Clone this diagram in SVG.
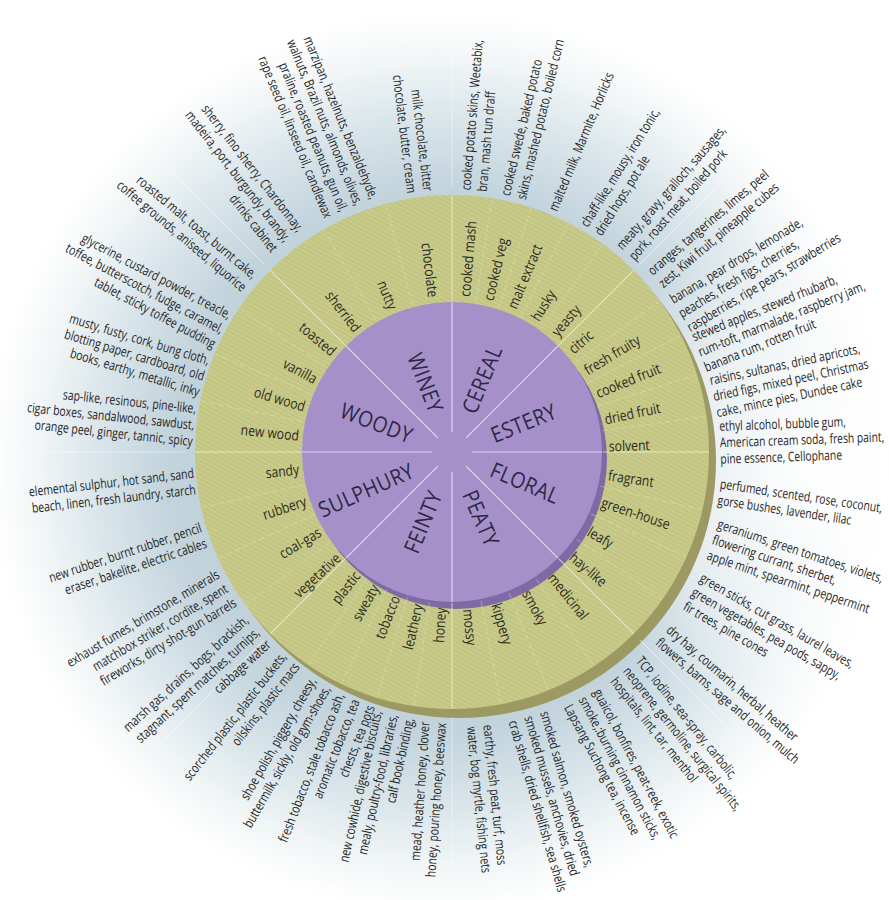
<svg xmlns="http://www.w3.org/2000/svg" width="889" height="900" viewBox="0 0 889 900">
<defs>
<radialGradient id="halo" cx="440" cy="462" r="450" gradientUnits="userSpaceOnUse">
<stop offset="0" stop-color="#b7c9d3"/>
<stop offset="0.6" stop-color="#c2d3dc"/>
<stop offset="0.76" stop-color="#d9e5ea"/>
<stop offset="0.9" stop-color="#f2f6f7"/>
<stop offset="1" stop-color="#ffffff"/>
</radialGradient>
<radialGradient id="glow" cx="820" cy="470" r="260" gradientUnits="userSpaceOnUse">
<stop offset="0" stop-color="#ffffff" stop-opacity="0.95"/>
<stop offset="0.6" stop-color="#ffffff" stop-opacity="0.55"/>
<stop offset="1" stop-color="#ffffff" stop-opacity="0"/>
</radialGradient>
<pattern id="hatch" width="4" height="4" patternUnits="userSpaceOnUse" patternTransform="rotate(28)">
<line x1="0" y1="1" x2="4" y2="1" stroke="#a8aa6a" stroke-width="1" opacity="0.45"/>
</pattern>
</defs>
<style>
.r{font-family:"Open Sans","Noto Sans",sans-serif;font-size:14.5px;fill:#2b2a22}
.o{font-family:"Open Sans","Noto Sans",sans-serif;font-size:13.5px;fill:#1f1f26}
.c{font-family:"Open Sans","Noto Sans",sans-serif;font-size:22px;fill:#2d2745;letter-spacing:0.6px}
.e{text-anchor:end}
.d1{stroke:#f4f0fa;stroke-width:1.2;opacity:0.75}
.d2{stroke:#f3f3cf;stroke-width:1;opacity:0.75}
.d3{stroke:#ffffff;stroke-width:1;opacity:0.45}
.d4{stroke:#ecedbd;stroke-width:0.8;opacity:0.45;stroke-dasharray:6 3}
</style>
<rect width="889" height="900" fill="#ffffff"/>
<rect width="889" height="900" fill="url(#halo)"/>
<rect width="889" height="900" fill="url(#glow)"/>
<g id="wheel">
<circle cx="459" cy="461" r="257" fill="#9c9a62"/>
<circle cx="452" cy="452" r="257" fill="#c9cb8a"/>
<circle cx="452" cy="452" r="257" fill="url(#hatch)"/>
<circle cx="457" cy="459" r="150" fill="#7e6aa4"/>
<circle cx="452" cy="452" r="150" fill="#a690c9"/>
</g>
<g id="connectors" transform="translate(452,452)">
<g id="sector-lines">
<line class="d1" x1="0" y1="-20" x2="0" y2="-150" transform="rotate(0)"/>
<line class="d1" x1="0" y1="-20" x2="0" y2="-150" transform="rotate(45)"/>
<line class="d1" x1="0" y1="-20" x2="0" y2="-150" transform="rotate(90)"/>
<line class="d1" x1="0" y1="-20" x2="0" y2="-150" transform="rotate(135)"/>
<line class="d1" x1="0" y1="-20" x2="0" y2="-150" transform="rotate(180)"/>
<line class="d1" x1="0" y1="-20" x2="0" y2="-150" transform="rotate(225)"/>
<line class="d1" x1="0" y1="-20" x2="0" y2="-150" transform="rotate(270)"/>
<line class="d1" x1="0" y1="-20" x2="0" y2="-150" transform="rotate(315)"/>
<line class="d2" x1="0" y1="-151" x2="0" y2="-257" transform="rotate(0)"/>
<line class="d2" x1="0" y1="-151" x2="0" y2="-257" transform="rotate(45)"/>
<line class="d2" x1="0" y1="-151" x2="0" y2="-257" transform="rotate(90)"/>
<line class="d2" x1="0" y1="-151" x2="0" y2="-257" transform="rotate(135)"/>
<line class="d2" x1="0" y1="-151" x2="0" y2="-257" transform="rotate(180)"/>
<line class="d2" x1="0" y1="-151" x2="0" y2="-257" transform="rotate(225)"/>
<line class="d2" x1="0" y1="-151" x2="0" y2="-257" transform="rotate(270)"/>
<line class="d2" x1="0" y1="-151" x2="0" y2="-257" transform="rotate(315)"/>
<line class="d3" x1="0" y1="-266" x2="0" y2="-450" transform="rotate(0)"/>
<line class="d3" x1="0" y1="-266" x2="0" y2="-420" transform="rotate(45)"/>
<line class="d3" x1="0" y1="-266" x2="0" y2="-420" transform="rotate(90)"/>
<line class="d3" x1="0" y1="-266" x2="0" y2="-420" transform="rotate(135)"/>
<line class="d3" x1="0" y1="-266" x2="0" y2="-440" transform="rotate(180)"/>
<line class="d3" x1="0" y1="-266" x2="0" y2="-420" transform="rotate(225)"/>
<line class="d3" x1="0" y1="-266" x2="0" y2="-440" transform="rotate(270)"/>
<line class="d3" x1="0" y1="-266" x2="0" y2="-420" transform="rotate(315)"/>
</g>
<g id="item-lines">
<line class="d4" x1="0" y1="-152" x2="0" y2="-256" transform="rotate(9)"/>
<line class="d4" x1="0" y1="-152" x2="0" y2="-256" transform="rotate(18)"/>
<line class="d4" x1="0" y1="-152" x2="0" y2="-256" transform="rotate(27)"/>
<line class="d4" x1="0" y1="-152" x2="0" y2="-256" transform="rotate(36)"/>
<line class="d4" x1="0" y1="-152" x2="0" y2="-256" transform="rotate(54)"/>
<line class="d4" x1="0" y1="-152" x2="0" y2="-256" transform="rotate(63)"/>
<line class="d4" x1="0" y1="-152" x2="0" y2="-256" transform="rotate(72.5)"/>
<line class="d4" x1="0" y1="-152" x2="0" y2="-256" transform="rotate(82)"/>
<line class="d4" x1="0" y1="-152" x2="0" y2="-256" transform="rotate(103)"/>
<line class="d4" x1="0" y1="-152" x2="0" y2="-256" transform="rotate(114)"/>
<line class="d4" x1="0" y1="-152" x2="0" y2="-256" transform="rotate(125)"/>
<line class="d4" x1="0" y1="-152" x2="0" y2="-256" transform="rotate(146.5)"/>
<line class="d4" x1="0" y1="-152" x2="0" y2="-256" transform="rotate(158)"/>
<line class="d4" x1="0" y1="-152" x2="0" y2="-256" transform="rotate(169)"/>
<line class="d4" x1="0" y1="-152" x2="0" y2="-256" transform="rotate(188.5)"/>
<line class="d4" x1="0" y1="-152" x2="0" y2="-256" transform="rotate(197)"/>
<line class="d4" x1="0" y1="-152" x2="0" y2="-256" transform="rotate(205.5)"/>
<line class="d4" x1="0" y1="-152" x2="0" y2="-256" transform="rotate(214)"/>
<line class="d4" x1="0" y1="-152" x2="0" y2="-256" transform="rotate(233.5)"/>
<line class="d4" x1="0" y1="-152" x2="0" y2="-256" transform="rotate(245.5)"/>
<line class="d4" x1="0" y1="-152" x2="0" y2="-256" transform="rotate(257.5)"/>
<line class="d4" x1="0" y1="-152" x2="0" y2="-256" transform="rotate(281.5)"/>
<line class="d4" x1="0" y1="-152" x2="0" y2="-256" transform="rotate(292.5)"/>
<line class="d4" x1="0" y1="-152" x2="0" y2="-256" transform="rotate(304)"/>
<line class="d4" x1="0" y1="-152" x2="0" y2="-256" transform="rotate(330)"/>
<line class="d4" x1="0" y1="-152" x2="0" y2="-256" transform="rotate(345)"/>
</g>
</g>
<g transform="translate(452,452)">
<g id="cat-cereal"><text class="c" transform="rotate(-67.5) translate(43,0) scale(.88,1)" y="7.8">CEREAL</text></g>
<g id="cat-estery"><text class="c" transform="rotate(-22) translate(43,0) scale(.88,1)" y="7.8">ESTERY</text></g>
<g id="cat-floral"><text class="c" transform="rotate(23) translate(43,0) scale(.88,1)" y="7.8">FLORAL</text></g>
<g id="cat-peaty"><text class="c" transform="rotate(66.5) translate(43,0) scale(.88,1)" y="7.8">PEATY</text></g>
<g id="cat-feinty"><text class="c e" transform="rotate(-67.5) translate(-43,0) scale(.88,1)" y="7.8">FEINTY</text></g>
<g id="cat-sulphury"><text class="c e" transform="rotate(-24) translate(-43,0) scale(.88,1)" y="7.8">SULPHURY</text></g>
<g id="cat-woody"><text class="c e" transform="rotate(21) translate(-43,0) scale(.88,1)" y="7.8">WOODY</text></g>
<g id="cat-winey"><text class="c e" transform="rotate(69) translate(-43,0) scale(.88,1)" y="7.8">WINEY</text></g>

<g id="n-cooked-mash"><text class="r" transform="rotate(-85.2) translate(156,0) scale(.84,1)" y="5">cooked mash</text><text class="o" transform="rotate(-85.2) translate(262,0) scale(.775,1)"><tspan x="0" y="-3.55">cooked potato skins, Weetabix,</tspan><tspan x="0" y="12.95">bran, mash tun draff</tspan></text></g>
<g id="n-cooked-veg"><text class="r" transform="rotate(-76.5) translate(156,0) scale(.84,1)" y="5">cooked veg</text><text class="o" transform="rotate(-76.5) translate(262,0) scale(.775,1)"><tspan x="0" y="-3.55">cooked swede, baked potato</tspan><tspan x="0" y="12.95">skins, mashed potato, boiled corn</tspan></text></g>
<g id="n-malt-extract"><text class="r" transform="rotate(-67.4) translate(156,0) scale(.84,1)" y="5">malt extract</text><text class="o" transform="rotate(-67.4) translate(262,0) scale(.775,1)"><tspan x="0" y="4.7">malted milk, Marmite, Horlicks</tspan></text></g>
<g id="n-husky"><text class="r" transform="rotate(-58) translate(156,0) scale(.84,1)" y="5">husky</text><text class="o" transform="rotate(-58) translate(262,0) scale(.775,1)"><tspan x="0" y="-3.55">chaff-like, mousy, iron tonic,</tspan><tspan x="0" y="12.95">dried hops, pot ale</tspan></text></g>
<g id="n-yeasty"><text class="r" transform="rotate(-49) translate(156,0) scale(.84,1)" y="5">yeasty</text><text class="o" transform="rotate(-49) translate(264,0) scale(.775,1)"><tspan x="0" y="-3.55">meaty, gravy, gralloch, sausages,</tspan><tspan x="0" y="12.95">pork, roast meat, boiled pork</tspan></text></g>
<g id="n-citric"><text class="r" transform="rotate(-40.5) translate(156,0) scale(.84,1)" y="5">citric</text><text class="o" transform="rotate(-40.5) translate(267,0) scale(.775,1)"><tspan x="0" y="-3.55">oranges, tangerines, limes, peel</tspan><tspan x="0" y="12.95">zest, Kiwi fruit, pineapple cubes</tspan></text></g>
<g id="n-fresh-fruity"><text class="r" transform="rotate(-31.2) translate(156,0) scale(.84,1)" y="5">fresh fruity</text><text class="o" transform="rotate(-31.2) translate(266,0) scale(.775,1)"><tspan x="0" y="-11.8">banana, pear drops, lemonade,</tspan><tspan x="0" y="4.7">peaches, fresh figs, cherries,</tspan><tspan x="0" y="21.2">raspberries, ripe pears, strawberries</tspan></text></g>
<g id="n-cooked-fruit"><text class="r" transform="rotate(-22) translate(156,0) scale(.84,1)" y="5">cooked fruit</text><text class="o" transform="rotate(-22) translate(266,0) scale(.775,1)"><tspan x="0" y="-11.8">stewed apples, stewed rhubarb,</tspan><tspan x="0" y="4.7">rum-toft, marmalade, raspberry jam,</tspan><tspan x="0" y="21.2">banana rum, rotten fruit</tspan></text></g>
<g id="n-dried-fruit"><text class="r" transform="rotate(-12) translate(156,0) scale(.84,1)" y="5">dried fruit</text><text class="o" transform="rotate(-12) translate(267,0) scale(.775,1)"><tspan x="0" y="-11.8">raisins, sultanas, dried apricots,</tspan><tspan x="0" y="4.7">dried figs, mixed peel, Christmas</tspan><tspan x="0" y="21.2">cake, mince pies, Dundee cake</tspan></text></g>
<g id="n-solvent"><text class="r" transform="rotate(-2) translate(157,0) scale(.84,1)" y="5">solvent</text><text class="o" transform="rotate(-2) translate(268,0) scale(.765,1)"><tspan x="0" y="-11.8">ethyl alcohol, bubble gum,</tspan><tspan x="0" y="4.7">American cream soda, fresh paint,</tspan><tspan x="0" y="21.2">pine essence, Cellophane</tspan></text></g>
<g id="n-fragrant"><text class="r" transform="rotate(8.5) translate(158,0) scale(.84,1)" y="5">fragrant</text><text class="o" transform="rotate(8.5) translate(270,0) scale(.765,1)"><tspan x="0" y="-3.55">perfumed, scented, rose, coconut,</tspan><tspan x="0" y="12.95">gorse bushes, lavender, lilac</tspan></text></g>
<g id="n-green-house"><text class="r" transform="rotate(18.5) translate(158,0) scale(.84,1)" y="5">green-house</text><text class="o" transform="rotate(18.5) translate(275,0) scale(.775,1)"><tspan x="0" y="-11.8">geraniums, green tomatoes, violets,</tspan><tspan x="0" y="4.7">flowering currant, sherbet,</tspan><tspan x="0" y="21.2">apple mint, spearmint, peppermint</tspan></text></g>
<g id="n-leafy"><text class="r" transform="rotate(30) translate(158,0) scale(.84,1)" y="5">leafy</text><text class="o" transform="rotate(30) translate(278,0) scale(.775,1)"><tspan x="0" y="-11.8">green sticks, cut grass, laurel leaves,</tspan><tspan x="0" y="4.7">green vegetables, pea pods, sappy,</tspan><tspan x="0" y="21.2">fir trees, pine cones</tspan></text></g>
<g id="n-hay-like"><text class="r" transform="rotate(40.8) translate(158,0) scale(.84,1)" y="5">hay-like</text><text class="o" transform="rotate(40.8) translate(279,0) scale(.775,1)"><tspan x="0" y="-3.55">dry hay, coumarin, herbal, heather</tspan><tspan x="0" y="12.95">flowers, barns, sage and onion, mulch</tspan></text></g>
<g id="n-medicinal"><text class="r" transform="rotate(51.2) translate(158,0) scale(.84,1)" y="5">medicinal</text><text class="o" transform="rotate(51.2) translate(278,0) scale(.775,1)"><tspan x="0" y="-11.8">TCP, iodine, sea-spray, carbolic,</tspan><tspan x="0" y="4.7">neoprene, germoline, surgical spirits,</tspan><tspan x="0" y="21.2">hospitals, lint, tar, menthol</tspan></text></g>
<g id="n-smoky"><text class="r" transform="rotate(62) translate(158,0) scale(.84,1)" y="5">smoky</text><text class="o" transform="rotate(62) translate(278,0) scale(.775,1)"><tspan x="0" y="-11.8">guaicol, bonfires, peat-reek, exotic</tspan><tspan x="0" y="4.7">smoke,:burning cinnamon sticks,</tspan><tspan x="0" y="21.2">Lapsang Suchong tea, incense</tspan></text></g>
<g id="n-kippery"><text class="r" transform="rotate(73.8) translate(158,0) scale(.84,1)" y="5">kippery</text><text class="o" transform="rotate(73.8) translate(275,0) scale(.775,1)"><tspan x="0" y="-11.8">smoked salmon, smoked oysters,</tspan><tspan x="0" y="4.7">smoked mussels, anchovies, dried</tspan><tspan x="0" y="21.2">crab shells, dried shellfish, sea shells</tspan></text></g>
<g id="n-mossy"><text class="r" transform="rotate(84.2) translate(158,0) scale(.84,1)" y="5">mossy</text><text class="o" transform="rotate(84.2) translate(275,0) scale(.775,1)"><tspan x="0" y="-3.55">earthy, fresh peat, turf, moss</tspan><tspan x="0" y="12.95">water, bog myrtle, fishing nets</tspan></text></g>

<g id="n-honey"><text class="r e" transform="rotate(-86) translate(-156,0) scale(.84,1)" y="5">honey</text><text class="o e" transform="rotate(-86) translate(-271,0) scale(.775,1)"><tspan x="0" y="-3.55">mead, heather honey, clover</tspan><tspan x="0" y="12.95">honey, pouring honey, beeswax</tspan></text></g>
<g id="n-leathery"><text class="r e" transform="rotate(-77.4) translate(-156,0) scale(.84,1)" y="5">leathery</text><text class="o e" transform="rotate(-77.4) translate(-269,0) scale(.775,1)"><tspan x="0" y="-11.8">new cowhide, digestive biscuits,</tspan><tspan x="0" y="4.7">mealy, poultry-food, libraries,</tspan><tspan x="0" y="21.2">calf book-binding,</tspan></text></g>
<g id="n-tobacco"><text class="r e" transform="rotate(-68.7) translate(-155,0) scale(.84,1)" y="5">tobacco</text><text class="o e" transform="rotate(-68.7) translate(-266,0) scale(.775,1)"><tspan x="0" y="-11.8">fresh tobacco, stale tobacco ash,</tspan><tspan x="0" y="4.7">aromatic tobacco, tea</tspan><tspan x="0" y="21.2">chests, tea pots</tspan></text></g>
<g id="n-sweaty"><text class="r e" transform="rotate(-60.2) translate(-154,0) scale(.84,1)" y="5">sweaty</text><text class="o e" transform="rotate(-60.2) translate(-266,0) scale(.775,1)"><tspan x="0" y="-3.55">shoe polish, piggery, cheesy,</tspan><tspan x="0" y="12.95">buttermilk, sickly, old gym-shoes,</tspan></text></g>
<g id="n-plastic"><text class="r e" transform="rotate(-52) translate(-154,0) scale(.84,1)" y="5">plastic</text><text class="o e" transform="rotate(-52) translate(-263,0) scale(.775,1)"><tspan x="0" y="-3.55">scorched plastic, plastic buckets,</tspan><tspan x="0" y="12.95">oilskins, plastic macs</tspan></text></g>
<g id="n-vegetative"><text class="r e" transform="rotate(-42.5) translate(-154,0) scale(.84,1)" y="5">vegetative</text><text class="o e" transform="rotate(-42.5) translate(-264,0) scale(.775,1)"><tspan x="0" y="-11.8">marsh gas, drains, bogs, brackish,</tspan><tspan x="0" y="4.7">stagnant, spent matches, turnips,</tspan><tspan x="0" y="21.2">cabbage water</tspan></text></g>
<g id="n-coal-gas"><text class="r e" transform="rotate(-31) translate(-154,0) scale(.84,1)" y="5">coal-gas</text><text class="o e" transform="rotate(-31) translate(-263,0) scale(.775,1)"><tspan x="0" y="-11.8">exhaust fumes, brimstone, minerals</tspan><tspan x="0" y="4.7">matchbox striker, cordite, spent</tspan><tspan x="0" y="21.2">fireworks, dirty shot-gun barrels</tspan></text></g>
<g id="n-rubbery"><text class="r e" transform="rotate(-18.5) translate(-154,0) scale(.84,1)" y="5">rubbery</text><text class="o e" transform="rotate(-18.5) translate(-262,0) scale(.775,1)"><tspan x="0" y="-3.55">new rubber, burnt rubber, pencil</tspan><tspan x="0" y="12.95">eraser, bakelite, electric cables</tspan></text></g>
<g id="n-sandy"><text class="r e" transform="rotate(-6.5) translate(-154,0) scale(.84,1)" y="5">sandy</text><text class="o e" transform="rotate(-6.5) translate(-259,0) scale(.775,1)"><tspan x="0" y="-3.55">elemental sulphur, hot sand, sand</tspan><tspan x="0" y="12.95">beach, linen, fresh laundry, starch</tspan></text></g>
<g id="n-new-wood"><text class="r e" transform="rotate(6) translate(-154,0) scale(.84,1)" y="5">new wood</text><text class="o e" transform="rotate(6) translate(-259,0) scale(.775,1)"><tspan x="0" y="-11.8">sap-like, resinous, pine-like,</tspan><tspan x="0" y="4.7">cigar boxes, sandalwood, sawdust,</tspan><tspan x="0" y="21.2">orange peel, ginger, tannic, spicy</tspan></text></g>
<g id="n-old-wood"><text class="r e" transform="rotate(17) translate(-154,0) scale(.84,1)" y="5">old wood</text><text class="o e" transform="rotate(17) translate(-259,0) scale(.775,1)"><tspan x="0" y="-11.8">musty, fusty, cork, bung cloth,</tspan><tspan x="0" y="4.7">blotting paper, cardboard, old</tspan><tspan x="0" y="21.2">books, earthy, metallic, inky</tspan></text></g>
<g id="n-vanilla"><text class="r e" transform="rotate(28) translate(-154,0) scale(.84,1)" y="5">vanilla</text><text class="o e" transform="rotate(28) translate(-260,0) scale(.775,1)"><tspan x="0" y="-11.8">glycerine, custard powder, treacle,</tspan><tspan x="0" y="4.7">toffee, butterscotch, fudge, caramel,</tspan><tspan x="0" y="21.2">tablet, sticky toffee pudding</tspan></text></g>
<g id="n-toasted"><text class="r e" transform="rotate(40) translate(-154,0) scale(.84,1)" y="5">toasted</text><text class="o e" transform="rotate(40) translate(-264,0) scale(.775,1)"><tspan x="0" y="-3.55">roasted malt, toast, burnt cake,</tspan><tspan x="0" y="12.95">coffee grounds, aniseed, liquorice</tspan></text></g>
<g id="n-sherried"><text class="r e" transform="rotate(52.2) translate(-154,0) scale(.84,1)" y="5">sherried</text><text class="o e" transform="rotate(52.2) translate(-268,0) scale(.775,1)"><tspan x="0" y="-11.8">sherry, fino sherry, Chardonnay,</tspan><tspan x="0" y="4.7">madeira, port, burgundy, brandy,</tspan><tspan x="0" y="21.2">drinks cabinet</tspan></text></g>
<g id="n-nutty"><text class="r e" transform="rotate(67.6) translate(-155,0) scale(.84,1)" y="5">nutty</text><text class="o e" transform="rotate(67.6) translate(-264,0) scale(.775,1)"><tspan x="0" y="-20.05">marzipan, hazelnuts, benzaldehyde,</tspan><tspan x="0" y="-3.55">walnuts, Brazil nuts, almonds, olives,</tspan><tspan x="0" y="12.95">praline, roasted peanuts, gun oil,</tspan><tspan x="0" y="29.45">rape seed oil, linseed oil, candlewax</tspan></text></g>
<g id="n-chocolate"><text class="r e" transform="rotate(83) translate(-156,0) scale(.84,1)" y="5">chocolate</text><text class="o e" transform="rotate(83) translate(-262,0) scale(.775,1)"><tspan x="0" y="-3.55">milk chocolate, bitter</tspan><tspan x="0" y="12.95">chocolate, butter, cream</tspan></text></g>
</g>
</svg>
